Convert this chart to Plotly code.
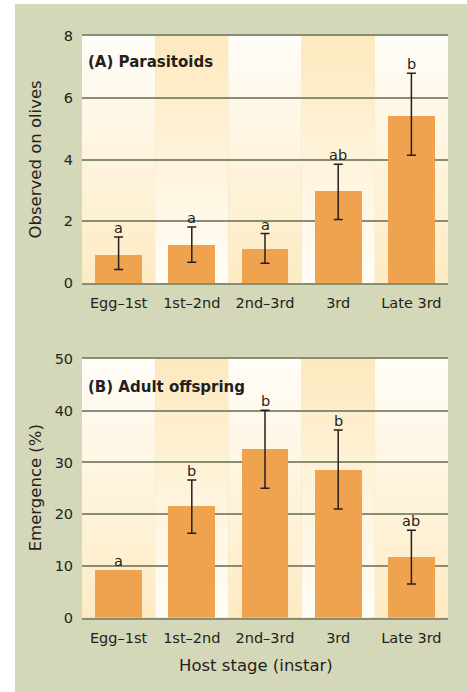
import plotly.graph_objects as go

# ---- data ----
stages = ["Egg–1st", "1st–2nd", "2nd–3rd", "3rd", "Late 3rd"]

parasitoids = [0.91, 1.23, 1.10, 2.98, 5.40]
parasitoids_hi = [1.49, 1.81, 1.60, 3.85, 6.79]
parasitoids_lo = [0.44, 0.67, 0.64, 2.06, 4.14]
parasitoids_grp = ["a", "a", "a", "ab", "b"]

emergence = [9.2, 21.6, 32.6, 28.6, 11.7]
emergence_hi = [None, 26.6, 40.1, 36.3, 16.9]
emergence_lo = [None, 16.3, 25.0, 21.0, 6.5]
emergence_grp = ["a", "b", "b", "b", "ab"]

# ---- style ----
W, H = 467, 692
FONT = "DejaVu Sans"
TXT = "#231f20"
BAR = "#f0a34f"
GRID = "#878e75"
GREEN = "#d4d8b8"
ODD_TOP, ODD_BOT = (255, 253, 248), (254, 235, 195)
EVEN_TOP, EVEN_BOT = (254, 233, 190), (255, 253, 247)

X_DOM = [82 / W, 448 / W]
A_DOM = [1 - 283 / H, 1 - 36 / H]
B_DOM = [1 - 617.7 / H, 1 - 359 / H]

fig = go.Figure()
shapes = [dict(type="rect", xref="paper", yref="paper", x0=15 / W, x1=1,
               y0=0, y1=1 - 4 / H, fillcolor=GREEN, line_width=0, layer="below")]


def mix(c0, c1, t):
    return "rgb(%d,%d,%d)" % tuple(round(a + (b - a) * t) for a, b in zip(c0, c1))


def column_bands(xref, yref, ymax, n=40):
    # vertical gradient stripes behind each category column
    out = []
    for i in range(len(stages)):
        top, bot = (ODD_TOP, ODD_BOT) if i % 2 == 0 else (EVEN_TOP, EVEN_BOT)
        for k in range(n):
            t = (k + 0.5) / n
            out.append(dict(type="rect", xref=xref, yref=yref,
                            x0=i - 0.5, x1=i + 0.5,
                            y0=ymax * k / n, y1=ymax * (k + 1) / n + ymax * 0.002,
                            fillcolor=mix(bot, top, t), line_width=0, layer="below"))
    return out


shapes += column_bands("x", "y", 8)
shapes += column_bands("x2", "y2", 50)


def add_panel(vals, hi, lo, xa, ya):
    xs = list(range(len(stages)))
    fig.add_trace(go.Bar(
        x=xs, y=vals, width=0.64, xaxis=xa, yaxis=ya,
        marker=dict(color=BAR, line_width=0),
        showlegend=False, hoverinfo="skip"))
    # error bars only where an interval exists
    ex, ey, ep, em = [], [], [], []
    for i, (v, h, l) in enumerate(zip(vals, hi, lo)):
        if h is None:
            continue
        ex.append(i)
        ey.append(v)
        ep.append(h - v)
        em.append(v - l)
    fig.add_trace(go.Scatter(
        x=ex, y=ey, mode="markers", marker=dict(size=0.1, opacity=0),
        xaxis=xa, yaxis=ya,
        error_y=dict(type="data", symmetric=False, array=ep, arrayminus=em,
                     color=TXT, thickness=1.5, width=4.5),
        showlegend=False, hoverinfo="skip"))


add_panel(parasitoids, parasitoids_hi, parasitoids_lo, "x", "y")
add_panel(emergence, emergence_hi, emergence_lo, "x2", "y2")

annotations = []


def letters(vals, hi, grp, xref, yref):
    for i, (v, h, g) in enumerate(zip(vals, hi, grp)):
        top = v if h is None else h
        annotations.append(dict(x=i, y=top, xref=xref, yref=yref, text=g,
                                showarrow=False, yanchor="bottom", yshift=-1,
                                font=dict(family=FONT, size=14.5, color=TXT)))


letters(parasitoids, parasitoids_hi, parasitoids_grp, "x", "y")
letters(emergence, emergence_hi, emergence_grp, "x2", "y2")

annotations += [
    dict(text="<b>(A) Parasitoids</b>", xref="x domain", yref="y domain",
         x=0.012, y=0.895, xanchor="left", yanchor="middle", showarrow=False,
         font=dict(family=FONT, size=15, color=TXT)),
    dict(text="<b>(B) Adult offspring</b>", xref="x2 domain", yref="y2 domain",
         x=0.012, y=0.892, xanchor="left", yanchor="middle", showarrow=False,
         font=dict(family=FONT, size=15, color=TXT)),
    dict(text="Observed on olives", xref="paper", yref="y domain",
         x=35 / W, y=0.5, textangle=-90, xanchor="center", yanchor="middle",
         showarrow=False, font=dict(family=FONT, size=16.5, color=TXT)),
    dict(text="Emergence (%)", xref="paper", yref="y2 domain",
         x=35 / W, y=0.5, textangle=-90, xanchor="center", yanchor="middle",
         showarrow=False, font=dict(family=FONT, size=16.5, color=TXT)),
    dict(text="Host stage (instar)", xref="paper", yref="paper",
         x=256 / W, y=1 - 665 / H, xanchor="center", yanchor="middle",
         showarrow=False, font=dict(family=FONT, size=16.5, color=TXT)),
]

xcommon = dict(range=[-0.5, 4.5], tickmode="array", tickvals=list(range(len(stages))),
               ticktext=stages, showgrid=False, zeroline=False,
               showline=True, mirror=True, linecolor=GRID, linewidth=2,
               ticks="outside", ticklen=6, tickcolor="rgba(0,0,0,0)",
               tickfont=dict(family=FONT, size=14.5, color=TXT), domain=X_DOM,
               automargin=False, fixedrange=True)
ycommon = dict(showgrid=True, gridcolor=GRID, gridwidth=1.6, zeroline=False,
               showline=False, ticks="outside", ticklen=5,
               tickcolor="rgba(0,0,0,0)", automargin=False,
               tickfont=dict(family=FONT, size=14.5, color=TXT), fixedrange=True)

fig.update_layout(
    width=W, height=H, margin=dict(l=0, r=0, t=0, b=0, pad=0, autoexpand=False),
    paper_bgcolor="white", plot_bgcolor="rgba(0,0,0,0)",
    xaxis=dict(xcommon, anchor="y"),
    yaxis=dict(ycommon, range=[0, 8], tickvals=[0, 2, 4, 6, 8], domain=A_DOM, anchor="x"),
    xaxis2=dict(xcommon, anchor="y2"),
    yaxis2=dict(ycommon, range=[0, 50], tickvals=[0, 10, 20, 30, 40, 50], domain=B_DOM, anchor="x2"),
    shapes=shapes, annotations=annotations, bargap=0,
)

fig.write_html("out.html")
